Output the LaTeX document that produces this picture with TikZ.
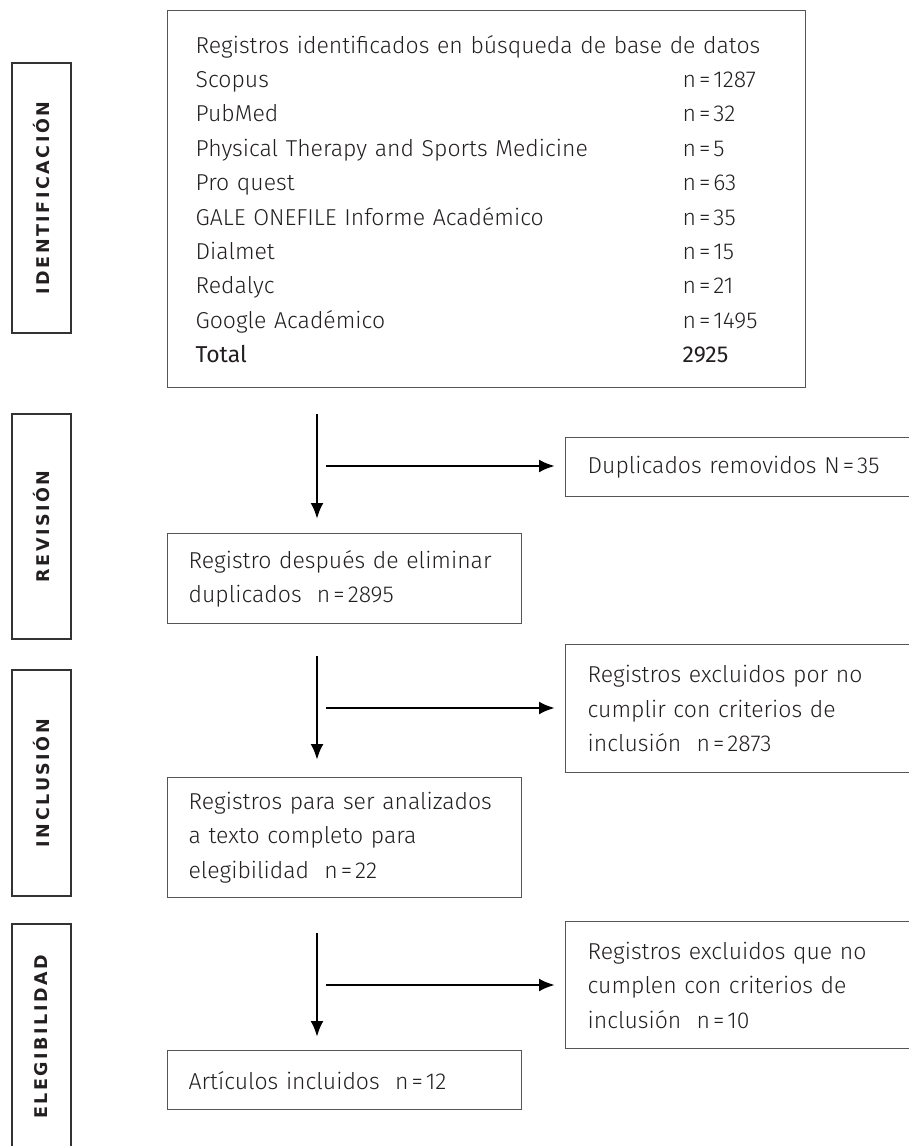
\documentclass[tikz,border=0pt]{standalone}
\usepackage{fontspec}
\setmainfont{Fira Sans}[UprightFont=* Light, BoldFont=*]
\newfontfamily\lblfont{DejaVu Sans}
\usetikzlibrary{arrows.meta}
\definecolor{boxgray}{HTML}{555555}
\definecolor{txt}{HTML}{231F20}
\makeatletter
\def\spx#1{\@spx#1\@nil}
\def\@spx#1#2\@nil{#1\ifx\relax#2\relax\else\kern2.5pt\@spx#2\@nil\fi}
\makeatother
\newcommand\nval[1]{n\kern3pt=\kern3pt#1}
\begin{document}
\begin{tikzpicture}[x=1pt,y=-1pt,
  txtfont/.style={font=\fontsize{23}{34.4}\selectfont, text=txt},
  box/.style={draw=boxgray, line width=1.3pt, anchor=north west, align=left,
    inner ysep=0pt, txtfont},
  lbl/.style={draw=black!80, line width=1.3pt, rotate=90, minimum height=59pt,
    inner sep=0pt, font=\lblfont\bfseries\fontsize{17.5}{20}\selectfont, text=txt},
  arr/.style={-{Latex[length=16pt,width=13pt]}, line width=2.7pt, black}]
\useasboundingbox (0,0) rectangle (908,1146);
% phase labels
\node[lbl, minimum width=270pt] (lid) at (41.5,198) {\spx{IDENTIFICACIÓN}};
\node[lbl, minimum width=225pt] (lrev) at (41.5,526.5) {\spx{REVISIÓN}};
\node[lbl, minimum width=226pt] (linc) at (41.5,783) {\spx{INCLUSIÓN}};
\node[lbl, minimum width=226pt] (leleg) at (41.5,1037) {\spx{ELEGIBILIDAD}};
% main boxes
\node[box, inner xsep=28pt, text width=582pt, minimum height=377pt] (ident) at (167,10)
 {Registros identificados en búsqueda de base de datos\\
  \makebox[487pt][l]{Scopus}\nval{1287}\\
  \makebox[487pt][l]{PubMed}\nval{32}\\
  \makebox[487pt][l]{Physical Therapy and Sports Medicine}\nval{5}\\
  \makebox[487pt][l]{Pro quest}\nval{63}\\
  \makebox[487pt][l]{GALE ONEFILE Informe Académico}\nval{35}\\
  \makebox[487pt][l]{Dialmet}\nval{15}\\
  \makebox[487pt][l]{Redalyc}\nval{21}\\
  \makebox[487pt][l]{Google Académico}\nval{1495}\\
  \textbf{\makebox[487pt][l]{Total}2925}};
\node[box, inner xsep=21pt, text width=312pt, minimum height=90pt] (rev) at (167,533)
 {Registro después de eliminar\\duplicados\ \ \nval{2895}};
\node[box, inner xsep=21pt, text width=312pt, minimum height=120pt] (para) at (167,777)
 {Registros para ser analizados\\a texto completo para\\elegibilidad\ \ \nval{22}};
\node[box, inner xsep=21pt, text width=312pt, minimum height=59pt] (art) at (167,1050)
 {Artículos incluidos\ \ \nval{12}};
% side boxes
\node[box, inner xsep=22pt, text width=321pt, minimum height=59pt] (dup) at (565,437)
 {Duplicados removidos N\kern3pt=\kern3pt35};
\node[box, inner xsep=22pt, text width=321pt, minimum height=128pt] (exc1) at (565,644)
 {Registros excluidos por no\\cumplir con criterios de\\inclusión\ \ \nval{2873}};
\node[box, inner xsep=22pt, text width=321pt, minimum height=127pt] (exc2) at (565,921)
 {Registros excluidos que no\\cumplen con criterios de\\inclusión\ \ \nval{10}};
% connectors
\coordinate (v) at (317,0);
\coordinate (h1) at (326,466);
\coordinate (h2) at (326,708);
\coordinate (h3) at (326,985);
\draw[arr, shorten <=26pt, shorten >=14pt] (ident.south -| v) -- (rev.north -| v);
\draw[arr, shorten >=10pt] (h1) -- (h1 -| dup.west);
\draw[arr, shorten <=32pt, shorten >=17pt] (rev.south -| v) -- (para.north -| v);
\draw[arr, shorten >=10pt] (h2) -- (h2 -| exc1.west);
\draw[arr, shorten <=35pt, shorten >=13pt] (para.south -| v) -- (art.north -| v);
\draw[arr, shorten >=10pt] (h3) -- (h3 -| exc2.west);
\end{tikzpicture}
\end{document}
